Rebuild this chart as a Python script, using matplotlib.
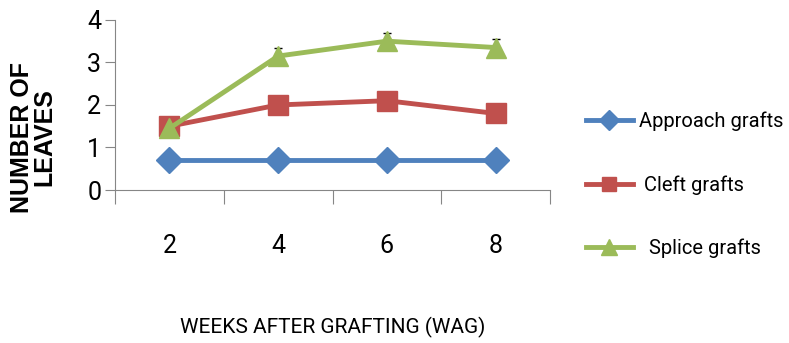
import matplotlib.pyplot as plt
import numpy as np

plt.rcParams['font.family'] = ['Roboto', 'DejaVu Sans']

weeks = ["2", "4", "6", "8"]
approach = [0.7, 0.7, 0.7, 0.7]
cleft = [1.5, 2.0, 2.1, 1.8]
splice = [1.45, 3.15, 3.5, 3.35]
splice_err = [0.0, 0.2, 0.2, 0.2]

x = np.arange(len(weeks))

fig = plt.figure(figsize=(7.89, 3.43), dpi=100)
ax = fig.add_axes([0.1458, 0.446, 0.5513, 0.496])

ax.errorbar(x, splice, yerr=[np.zeros(4), splice_err], fmt="none",
            ecolor="black", elinewidth=1.2, capsize=3, zorder=2)
ax.plot(x, approach, color="#4F81BD", lw=3.5, marker="D", ms=13,
        label="Approach grafts", zorder=3)
ax.plot(x, cleft, color="#C0504D", lw=3.5, marker="s", ms=14,
        label=" Cleft grafts", zorder=3)
ax.plot(x, splice, color="#9BBB59", lw=3.5, marker="^", ms=15,
        label="  Splice grafts", zorder=4)

ax.set_xlim(-0.5, len(weeks) - 0.5)
ax.set_ylim(0, 4)
ax.set_yticks([0, 1, 2, 3, 4])

# category ticks sit on the boundaries, labels at the centres
ax.set_xticks(np.arange(-0.5, len(weeks), 1.0))
ax.set_xticklabels([])
ax.set_xticks(x, minor=True)
ax.set_xticklabels(weeks, minor=True)
ax.tick_params(axis="x", which="major", length=10, width=0.8, color="#868686")
ax.tick_params(axis="x", which="minor", length=0, pad=32, labelsize=18)
ax.tick_params(axis="y", length=7, width=0.8, color="#868686", labelsize=18, pad=3)

for side in ["top", "right"]:
    ax.spines[side].set_visible(False)
for side in ["left", "bottom"]:
    ax.spines[side].set_color("#868686")
    ax.spines[side].set_linewidth(0.8)

ax.set_xlabel("WEEKS AFTER GRAFTING (WAG)", fontsize=15, labelpad=42)
fig.text(0.042, 0.6, "NUMBER OF\nLEAVES", rotation=90, ha="center", va="center",
         fontsize=18, fontweight="bold", family="Liberation Sans", linespacing=0.95)

fig.legend(loc="center left", bbox_to_anchor=(0.72, 0.461), frameon=False,
           fontsize=14.5, labelspacing=2.2, handlelength=2.3, handletextpad=0.3,
           markerscale=0.75)

fig.savefig("out.png", dpi=100)
